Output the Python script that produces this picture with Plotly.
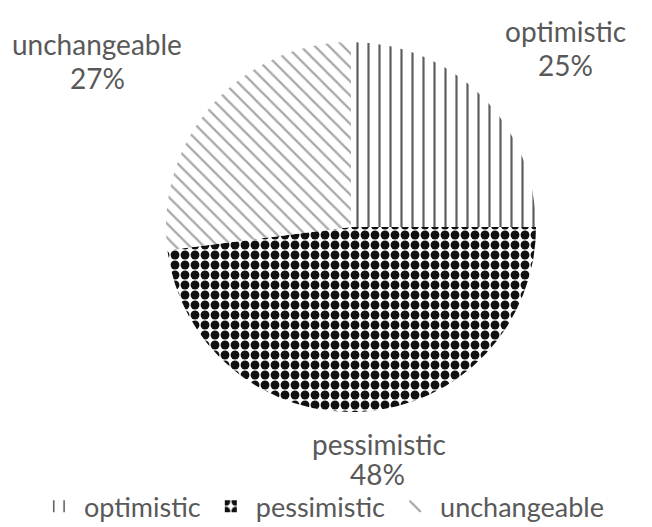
import plotly.graph_objects as go

# Attitude shares
labels = ["optimistic", "pessimistic", "unchangeable"]
values = [25, 48, 27]

# Fill patterns per slice
pattern_shapes = ["|", ".", "\\"]
pattern_fg = ["#5e5e5e", "#101010", "#a8a8a8"]
pattern_size = [11, 10, 10]
pattern_solidity = [0.2, 0.62, 0.22]

TEXT = "#595959"
FONT = "Lato, Open Sans, sans-serif"

fig = go.Figure(
    go.Pie(
        labels=labels,
        values=values,
        sort=False,
        direction="clockwise",
        rotation=0,
        textinfo="none",
        hoverinfo="label+percent",
        marker=dict(
            colors=["white"] * 3,
            line=dict(color="white", width=0),
            pattern=dict(
                shape=pattern_shapes,
                fgcolor=pattern_fg,
                bgcolor="white",
                fgopacity=1,
                size=pattern_size,
                solidity=pattern_solidity,
                fillmode="overlay",
            ),
        ),
        domain=dict(x=[0.2546, 0.8221], y=[0.2182, 0.9203]),
    )
)

# Outside category labels (name line and percentage line), percentages
# derived from the values
total = sum(values)
label_pos = {
    "optimistic": ((565, 31), (565, 65)),
    "pessimistic": ((379, 444), (377, 474)),
    "unchangeable": ((97, 44), (97, 78)),
}
W, H = 652, 527
for lab, val in zip(labels, values):
    (nx, ny), (px, py) = label_pos[lab]
    for text, x, y in ((lab, nx, ny), (f"{round(100 * val / total)}%", px, py)):
        fig.add_annotation(
            x=x / W, y=1 - y / H, xref="paper", yref="paper",
            text=text,
            showarrow=False,
            font=dict(family=FONT, size=28, color=TEXT),
            xanchor="center", yanchor="middle",
        )

fig.update_layout(
    width=W,
    height=H,
    margin=dict(l=0, r=0, t=0, b=0, autoexpand=False),
    paper_bgcolor="white",
    plot_bgcolor="white",
    showlegend=True,
    legend=dict(
        orientation="h",
        x=0.052, xanchor="left",
        y=-0.008, yanchor="bottom",
        font=dict(family=FONT, size=27, color=TEXT),
        itemwidth=40,
        traceorder="normal",
        tracegroupgap=0,
    ),
)

fig.write_html("out.html")
